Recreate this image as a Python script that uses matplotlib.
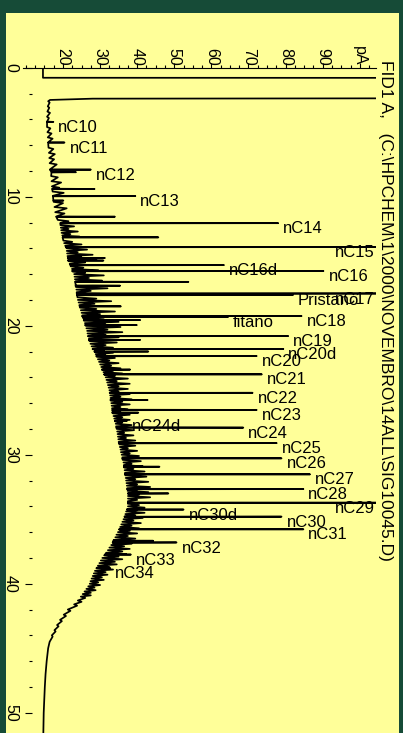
import numpy as np
import matplotlib.pyplot as plt
from matplotlib.patches import Rectangle
from matplotlib.ticker import MultipleLocator

plt.rcParams['font.family'] = ['Liberation Sans', 'DejaVu Sans']

title = 'FID1 A,   (C:\\HPCHEM\\1\\2000\\NOVEMBRO\\14ALL\\SIG10045.D)'

# labelled peaks: retention time (min), foot and apex of the signal (pA)
peak_names = ['nC10', 'nC11', 'nC12', 'nC13', 'nC14', 'nC15', 'nC16d', 'nC16',
              'nC17', 'Pristano', 'nC18', 'fitano', 'nC19', 'nC20d', 'nC20',
              'nC21', 'nC22', 'nC23', 'nC24d', 'nC24', 'nC25', 'nC26', 'nC27',
              'nC28', 'nC29', 'nC30d', 'nC30', 'nC31', 'nC32', 'nC33', 'nC34']
peak_times = [4.2, 5.8, 7.9, 9.95, 12.05, 13.9, 15.3, 15.76,
              17.5, 17.62, 19.25, 19.32, 20.8, 21.8, 22.35,
              23.77, 25.2, 26.53, 27.39, 27.9, 29.1, 30.28, 31.52,
              32.66, 33.72, 34.25, 34.8, 35.78, 36.8, 37.74, 38.78]
peak_feet = [15.7, 16.0, 16.5, 17.3, 19.3, 20.8, 22.0, 22.5,
             23.7, 23.8, 25.2, 25.3, 26.8, 28.0, 29.0,
             31.1, 32.6, 33.3, 34.0, 34.4, 35.1, 36.0, 36.7,
             37.3, 37.5, 37.3, 36.6, 35.2, 33.4, 31.3, 29.1]
peak_apex = [17.4, 20.4, 27.5, 39.5, 78.0, 120.0, 63.4, 90.2,
             120.0, 82.0, 84.3, 64.5, 80.7, 79.4, 72.2,
             73.6, 71.1, 72.2, 37.2, 68.6, 77.6, 78.9, 86.6,
             84.8, 120.0, 52.5, 78.9, 84.8, 50.6, 38.3, 32.7]

# smaller unlabelled peaks
minor_times = [8.1, 9.4, 10.3, 11.55, 13.15, 14.75, 14.95, 16.6, 16.9, 18.5,
               19.56, 19.95, 21.1, 22.0, 23.4, 25.76, 26.74, 30.93, 33.0, 36.67]
minor_feet = [16.9, 17.1, 17.4, 18.2, 19.9, 21.3, 21.4, 23.3, 23.4, 24.5,
              25.6, 26.0, 27.0, 28.5, 30.5, 32.8, 33.3, 36.4, 37.5, 33.6]
minor_apex = [23.5, 28.5, 20.1, 34.0, 45.7, 31.3, 30.9, 53.8, 35.4, 35.6,
              40.8, 39.9, 40.8, 43.0, 38.1, 42.8, 40.3, 46.0, 48.4, 44.3]

# unresolved hump: time, low and high of each wiggle (pA)
grass = [
    (2.6, 16.0, 16.4), (3.0, 15.9, 16.3), (3.4, 15.8, 16.5), (3.8, 15.7, 16.2),
    (4.6, 15.7, 16.6), (5.0, 15.8, 16.9), (5.4, 15.9, 17.2), (6.2, 16.1, 17.4),
    (6.6, 16.2, 17.8), (7.0, 16.3, 17.6), (7.4, 16.4, 18.3), (8.4, 16.8, 18.6),
    (8.8, 16.9, 19.5), (9.2, 17.0, 19.0), (9.6, 17.2, 20.2), (10.4, 17.5, 20.0),
    (10.8, 17.7, 21.0), (11.2, 17.9, 20.4), (11.8, 18.6, 21.5),
    (12.2, 19.3, 23.0), (12.4, 19.4, 21.5), (12.6, 19.5, 24.0), (12.8, 19.6, 22.0),
    (13.0, 19.8, 24.5), (13.4, 20.1, 22.5), (13.6, 20.3, 25.0), (13.8, 20.6, 23.0),
    (14.0, 21.0, 26.5), (14.2, 21.0, 24.0), (14.4, 21.1, 28.0), (14.6, 21.2, 25.0),
    (14.8, 21.3, 29.0), (15.0, 21.5, 26.0), (15.2, 21.8, 28.5), (15.4, 22.1, 25.5),
    (15.6, 22.4, 29.5), (15.8, 22.7, 26.0), (16.0, 23.0, 31.0), (16.2, 23.1, 27.0),
    (16.4, 23.2, 30.5), (16.8, 23.4, 28.0), (17.0, 23.5, 32.0), (17.2, 23.6, 27.5),
    (17.4, 23.7, 31.5), (17.8, 23.9, 29.0), (18.0, 24.0, 33.0), (18.2, 24.2, 28.5),
    (18.4, 24.4, 32.5), (18.6, 24.6, 29.0), (18.8, 24.8, 34.0), (19.0, 25.0, 30.0),
    (19.2, 25.2, 33.5), (19.4, 25.4, 31.0), (19.6, 25.6, 35.0), (19.8, 25.9, 31.5),
    (20.0, 26.2, 35.5), (20.2, 26.3, 32.0), (20.4, 26.5, 36.0), (20.6, 26.6, 31.5),
    (20.8, 26.8, 35.0), (21.0, 27.0, 32.0), (21.2, 27.2, 34.5), (21.4, 27.4, 31.5),
    (21.6, 27.7, 33.5), (21.8, 28.0, 31.0), (22.0, 28.5, 33.5), (22.2, 28.8, 31.5),
    (22.4, 29.1, 34.0), (22.6, 29.4, 32.5), (22.8, 29.7, 35.0), (23.0, 30.0, 33.0),
    (23.2, 30.3, 35.5), (23.4, 30.6, 33.5), (23.6, 30.9, 36.0), (23.8, 31.2, 34.0),
    (24.0, 31.5, 37.5), (24.2, 31.7, 34.5), (24.4, 31.9, 38.0), (24.6, 32.1, 35.0),
    (24.8, 32.3, 37.5), (25.0, 32.5, 35.0), (25.2, 32.6, 38.0), (25.4, 32.7, 35.5),
    (25.6, 32.8, 38.5), (25.8, 32.9, 36.0), (26.0, 33.0, 38.0), (26.2, 33.1, 35.5),
    (26.4, 33.2, 37.5), (26.6, 33.3, 35.5), (26.8, 33.5, 38.0), (27.0, 33.6, 36.0),
    (27.2, 33.8, 38.0), (27.4, 34.0, 36.0), (27.6, 34.2, 38.5), (27.8, 34.3, 36.5),
    (28.0, 34.5, 39.0), (28.2, 34.6, 36.5), (28.4, 34.7, 39.0), (28.6, 34.8, 37.0),
    (28.8, 34.9, 39.5), (29.0, 35.0, 37.5), (29.2, 35.2, 39.5), (29.4, 35.3, 37.5),
    (29.6, 35.5, 40.0), (29.8, 35.6, 38.0), (30.0, 35.8, 40.5), (30.2, 36.0, 38.0),
    (30.4, 36.1, 41.0), (30.6, 36.3, 38.5), (30.8, 36.4, 41.5), (31.0, 36.5, 39.0),
    (31.2, 36.6, 42.0), (31.4, 36.7, 39.0), (31.6, 36.8, 42.5), (31.8, 36.9, 39.5),
    (32.0, 37.0, 43.0), (32.2, 37.1, 40.0), (32.4, 37.2, 43.5), (32.6, 37.3, 40.0),
    (32.8, 37.4, 43.0), (33.0, 37.5, 40.5), (33.2, 37.5, 43.5), (33.4, 37.5, 40.0),
    (33.6, 37.5, 42.5), (33.8, 37.5, 40.5), (34.0, 37.5, 42.0), (34.2, 37.3, 40.0),
    (34.4, 37.0, 42.0), (34.6, 36.8, 39.5), (34.8, 36.6, 41.5), (35.0, 36.3, 39.0),
    (35.2, 36.0, 41.0), (35.4, 35.7, 38.5), (35.6, 35.4, 40.5), (35.8, 35.1, 38.0),
    (36.0, 34.8, 40.0), (36.2, 34.4, 37.5), (36.4, 34.1, 39.5), (36.6, 33.7, 37.0),
    (36.8, 33.4, 38.5), (37.0, 33.0, 36.5), (37.2, 32.5, 38.0), (37.4, 32.1, 36.0),
    (37.6, 31.6, 37.0), (37.8, 31.1, 35.0), (38.0, 30.6, 36.0), (38.2, 30.2, 34.0),
    (38.4, 29.8, 34.5), (38.6, 29.4, 32.5), (38.8, 29.0, 33.5), (39.0, 28.6, 31.5),
    (39.2, 28.3, 32.0), (39.4, 28.0, 30.5), (39.6, 27.7, 31.0), (39.8, 27.4, 29.5),
    (40.0, 27.2, 30.0), (40.2, 26.8, 28.5), (40.4, 26.3, 28.8), (40.6, 25.8, 27.5),
    (40.8, 25.3, 27.5), (41.0, 24.8, 26.0), (41.3, 24.0, 25.0), (41.6, 23.0, 23.8),
    (42.0, 21.3, 22.0), (42.4, 20.2, 20.8), (42.8, 19.2, 19.7), (43.2, 18.4, 18.8),
    (43.6, 17.7, 18.0), (44.0, 17.0, 17.2),
]

# solvent front (goes off scale) and the late baseline
solvent = [(0.0, 14.6), (0.78, 14.6), (0.80, 250.0), (2.33, 250.0),
           (2.40, 28.0), (2.50, 16.5)]
tail = [(44.5, 16.4), (45.0, 16.0), (46.0, 15.6), (47.0, 15.3),
        (48.0, 15.1), (50.0, 14.8), (51.6, 14.7)]

pa_ticks = [20, 30, 40, 50, 60, 70, 80, 90, 100]
pa_labels = ['20', '30', '40', '50', '60', '70', '80', '90', 'pA']
time_ticks = [0, 10, 20, 30, 40, 50]

# assemble the detector trace
pts = list(solvent) + list(tail)
for t, lo, hi in grass:
    pts += [(t, lo), (t + 0.1, hi)]
w = 0.02
for t, f, a in zip(peak_times + minor_times, peak_feet + minor_feet,
                   peak_apex + minor_apex):
    pts += [(t - w, f), (t, a), (t + w, f)]
pts.sort(key=lambda p: p[0])
trace_t = np.array([p[0] for p in pts])
trace_pa = np.array([p[1] for p in pts])

W, H = 403, 733
fig = plt.figure(figsize=(W / 100, H / 100), dpi=100, facecolor='#164b37')
fig.patches.append(Rectangle((6 / W, 0), 393 / W, 720 / H, transform=fig.transFigure,
                             facecolor='#ffff99', edgecolor='none', zorder=-1))

ax = fig.add_axes([23 / W, 0, 353 / W, 665.3 / H])
ax.set_facecolor('none')
ax.plot(trace_pa, trace_t, color='black', lw=1.25)
ax.set_xlim(9.22, 104.37)
ax.set_ylim(51.57, 0)

for name, t, a in zip(peak_names, peak_times, peak_apex):
    ax.annotate(name, (min(a, 92.0), t), xytext=(3.6, -4), textcoords='offset points',
                ha='left', va='center', fontsize=12)

for side in ('right', 'bottom'):
    ax.spines[side].set_visible(False)
ax.spines['top'].set_linewidth(0.8)
ax.spines['left'].set_position(('data', 11.64))
ax.spines['left'].set_color('none')

ax.xaxis.set_ticks_position('top')
ax.set_xticks(pa_ticks)
ax.set_xticklabels(pa_labels)
ax.xaxis.set_minor_locator(MultipleLocator(2.5))
ax.tick_params(axis='x', which='major', length=3.5, width=0.8, pad=-2,
               labelsize=11.5, labelrotation=-90)
ax.tick_params(axis='x', which='minor', length=2, width=0.8)

ax.set_yticks(time_ticks)
ax.yaxis.set_minor_locator(MultipleLocator(2))
ax.tick_params(axis='y', which='major', length=5, width=0.8, pad=5,
               labelsize=11.5, labelrotation=-90)
ax.tick_params(axis='y', which='minor', length=2.5, width=0.8)
for lab in ax.get_yticklabels():
    lab.set_va('center')

fig.text(385 / W, 1 - 60 / H, title, rotation=-90, ha='center', va='top', fontsize=12.5)

fig.savefig('out.png', dpi=100, facecolor=fig.get_facecolor())
